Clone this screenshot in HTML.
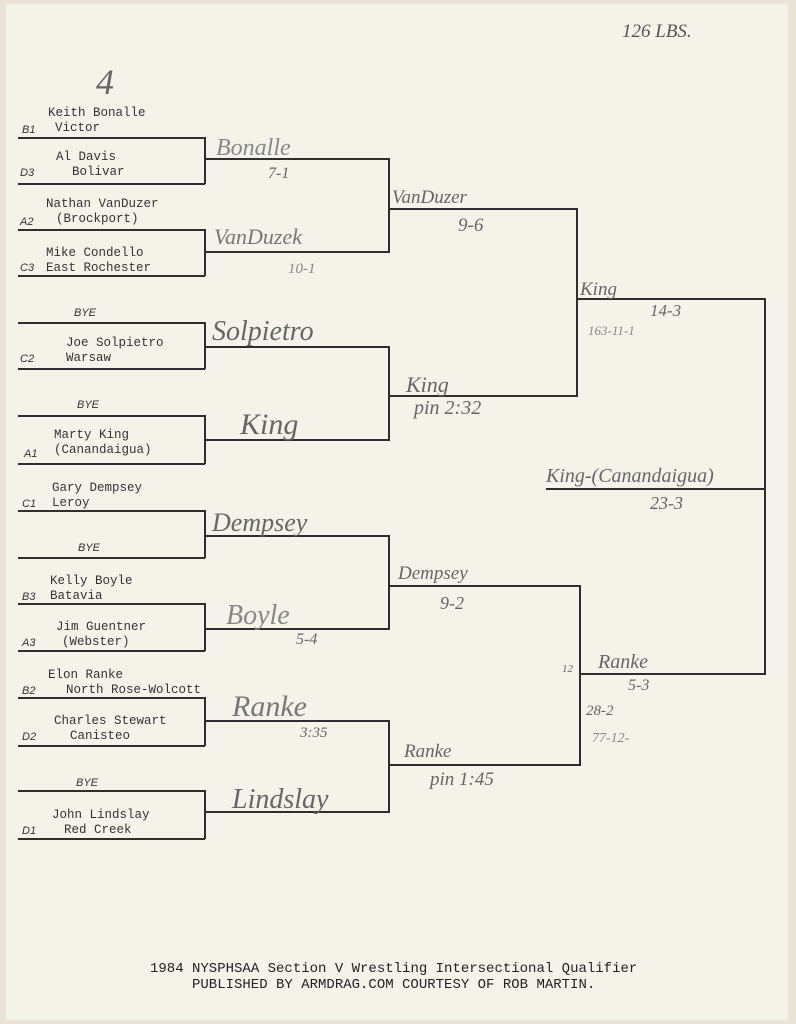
<!DOCTYPE html>
<html><head><meta charset="utf-8"><style>
html,body{margin:0;padding:0}
body{width:796px;height:1024px;background:#e9e4d6;position:relative;overflow:hidden}
.paper{position:absolute;left:6px;top:4px;width:782px;height:1016px;background:#f5f2e9}
.h{position:absolute;height:1.6px;background:#2e2e2e}
.v{position:absolute;width:1.6px;background:#2e2e2e}
.t{position:absolute;font-family:"Liberation Mono",monospace;font-size:12.5px;color:#333;white-space:nowrap;line-height:14px}
.s{position:absolute;font-family:"Liberation Sans",sans-serif;font-style:italic;font-size:11px;color:#333}
.w{position:absolute;font-family:"Liberation Serif",serif;font-style:italic;color:#666;white-space:nowrap;line-height:1}
</style></head><body>
<div class="paper"></div>
<div class="w" style="left:622px;top:22px;font-size:19px;color:#555">126 LBS.</div>
<div class="w" style="left:96px;top:64px;font-size:36px;color:#666">4</div>

<div class="h" style="left:18px;top:137px;width:187px"></div>
<div class="h" style="left:18px;top:183px;width:187px"></div>
<div class="v" style="left:204px;top:137px;height:47px"></div>
<div class="h" style="left:18px;top:229px;width:187px"></div>
<div class="h" style="left:18px;top:275px;width:187px"></div>
<div class="v" style="left:204px;top:229px;height:47px"></div>
<div class="h" style="left:18px;top:322px;width:187px"></div>
<div class="h" style="left:18px;top:368px;width:187px"></div>
<div class="v" style="left:204px;top:322px;height:47px"></div>
<div class="h" style="left:18px;top:415px;width:187px"></div>
<div class="h" style="left:18px;top:463px;width:187px"></div>
<div class="v" style="left:204px;top:415px;height:49px"></div>
<div class="h" style="left:18px;top:510px;width:187px"></div>
<div class="h" style="left:18px;top:557px;width:187px"></div>
<div class="v" style="left:204px;top:510px;height:48px"></div>
<div class="h" style="left:18px;top:603px;width:187px"></div>
<div class="h" style="left:18px;top:650px;width:187px"></div>
<div class="v" style="left:204px;top:603px;height:48px"></div>
<div class="h" style="left:18px;top:697px;width:187px"></div>
<div class="h" style="left:18px;top:745px;width:187px"></div>
<div class="v" style="left:204px;top:697px;height:49px"></div>
<div class="h" style="left:18px;top:790px;width:187px"></div>
<div class="h" style="left:18px;top:838px;width:187px"></div>
<div class="v" style="left:204px;top:790px;height:49px"></div>

<div class="h" style="left:204px;top:158px;width:186px"></div>
<div class="h" style="left:204px;top:251px;width:186px"></div>
<div class="v" style="left:388px;top:158px;height:94px"></div>
<div class="h" style="left:204px;top:346px;width:186px"></div>
<div class="h" style="left:204px;top:439px;width:186px"></div>
<div class="v" style="left:388px;top:346px;height:94px"></div>
<div class="h" style="left:204px;top:535px;width:186px"></div>
<div class="h" style="left:204px;top:628px;width:186px"></div>
<div class="v" style="left:388px;top:535px;height:94px"></div>
<div class="h" style="left:204px;top:720px;width:186px"></div>
<div class="h" style="left:204px;top:811px;width:186px"></div>
<div class="v" style="left:388px;top:720px;height:92px"></div>

<div class="h" style="left:388px;top:208px;width:190px"></div>
<div class="h" style="left:388px;top:395px;width:190px"></div>
<div class="v" style="left:576px;top:208px;height:188px"></div>
<div class="h" style="left:388px;top:585px;width:193px"></div>
<div class="h" style="left:388px;top:764px;width:193px"></div>
<div class="v" style="left:579px;top:585px;height:180px"></div>

<div class="h" style="left:576px;top:298px;width:190px"></div>
<div class="h" style="left:579px;top:673px;width:187px"></div>
<div class="v" style="left:764px;top:298px;height:376px"></div>
<div class="h" style="left:546px;top:488px;width:220px"></div>

<div class="t" style="left:48px;top:106px">Keith Bonalle</div>
<div class="s" style="left:22px;top:124px">B1</div><div class="t" style="left:55px;top:121px">Victor</div>
<div class="t" style="left:56px;top:150px">Al Davis</div>
<div class="s" style="left:20px;top:167px">D3</div><div class="t" style="left:72px;top:165px">Bolivar</div>
<div class="t" style="left:46px;top:197px">Nathan VanDuzer</div>
<div class="s" style="left:20px;top:216px">A2</div><div class="t" style="left:56px;top:212px">(Brockport)</div>
<div class="t" style="left:46px;top:246px">Mike Condello</div>
<div class="s" style="left:20px;top:262px">C3</div><div class="t" style="left:46px;top:261px">East Rochester</div>
<div class="s" style="left:74px;top:307px">BYE</div>
<div class="t" style="left:66px;top:336px">Joe Solpietro</div>
<div class="s" style="left:20px;top:353px">C2</div><div class="t" style="left:66px;top:351px">Warsaw</div>
<div class="s" style="left:77px;top:399px">BYE</div>
<div class="t" style="left:54px;top:428px">Marty King</div>
<div class="s" style="left:24px;top:448px">A1</div><div class="t" style="left:54px;top:443px">(Canandaigua)</div>
<div class="t" style="left:52px;top:481px">Gary Dempsey</div>
<div class="s" style="left:22px;top:498px">C1</div><div class="t" style="left:52px;top:496px">Leroy</div>
<div class="s" style="left:78px;top:542px">BYE</div>
<div class="t" style="left:50px;top:574px">Kelly Boyle</div>
<div class="s" style="left:22px;top:591px">B3</div><div class="t" style="left:50px;top:589px">Batavia</div>
<div class="t" style="left:56px;top:620px">Jim Guentner</div>
<div class="s" style="left:22px;top:637px">A3</div><div class="t" style="left:62px;top:635px">(Webster)</div>
<div class="t" style="left:48px;top:668px">Elon Ranke</div>
<div class="s" style="left:22px;top:685px">B2</div><div class="t" style="left:66px;top:683px">North Rose-Wolcott</div>
<div class="t" style="left:54px;top:714px">Charles Stewart</div>
<div class="s" style="left:22px;top:731px">D2</div><div class="t" style="left:70px;top:729px">Canisteo</div>
<div class="s" style="left:76px;top:777px">BYE</div>
<div class="t" style="left:52px;top:808px">John Lindslay</div>
<div class="s" style="left:22px;top:825px">D1</div><div class="t" style="left:64px;top:823px">Red Creek</div>

<div class="w" style="left:216px;top:136px;font-size:24px;color:#888">Bonalle</div>
<div class="w" style="left:268px;top:166px;font-size:16px">7-1</div>
<div class="w" style="left:214px;top:226px;font-size:22px;color:#777">VanDuzek</div>
<div class="w" style="left:288px;top:262px;font-size:15px;color:#888">10-1</div>
<div class="w" style="left:212px;top:318px;font-size:28px">Solpietro</div>
<div class="w" style="left:240px;top:410px;font-size:30px">King</div>
<div class="w" style="left:212px;top:510px;font-size:26px">Dempsey</div>
<div class="w" style="left:226px;top:602px;font-size:28px;color:#888">Boyle</div>
<div class="w" style="left:296px;top:632px;font-size:16px">5-4</div>
<div class="w" style="left:232px;top:692px;font-size:30px;color:#777">Ranke</div>
<div class="w" style="left:300px;top:726px;font-size:15px">3:35</div>
<div class="w" style="left:232px;top:786px;font-size:28px">Lindslay</div>
<div class="w" style="left:392px;top:188px;font-size:19px">VanDuzer</div>
<div class="w" style="left:458px;top:216px;font-size:19px">9-6</div>
<div class="w" style="left:406px;top:374px;font-size:22px">King</div>
<div class="w" style="left:414px;top:398px;font-size:20px">pin 2:32</div>
<div class="w" style="left:398px;top:564px;font-size:19px">Dempsey</div>
<div class="w" style="left:440px;top:594px;font-size:18px">9-2</div>
<div class="w" style="left:404px;top:742px;font-size:19px">Ranke</div>
<div class="w" style="left:430px;top:770px;font-size:19px">pin 1:45</div>
<div class="w" style="left:580px;top:280px;font-size:19px">King</div>
<div class="w" style="left:650px;top:302px;font-size:17px">14-3</div>
<div class="w" style="left:588px;top:324px;font-size:13px;color:#888">163-11-1</div>
<div class="w" style="left:546px;top:466px;font-size:20px">King-(Canandaigua)</div>
<div class="w" style="left:650px;top:494px;font-size:18px">23-3</div>
<div class="w" style="left:562px;top:664px;font-size:11px">12</div>
<div class="w" style="left:598px;top:652px;font-size:20px">Ranke</div>
<div class="w" style="left:628px;top:678px;font-size:16px">5-3</div>
<div class="w" style="left:586px;top:704px;font-size:15px">28-2</div>
<div class="w" style="left:592px;top:732px;font-size:14px;color:#888">77-12-</div>

<div class="t" style="left:150px;top:962px;font-size:14px;color:#222">1984 NYSPHSAA Section V Wrestling Intersectional Qualifier</div>
<div class="t" style="left:192px;top:978px;font-size:14px;color:#222">PUBLISHED BY ARMDRAG.COM COURTESY OF ROB MARTIN.</div>
</body></html>
